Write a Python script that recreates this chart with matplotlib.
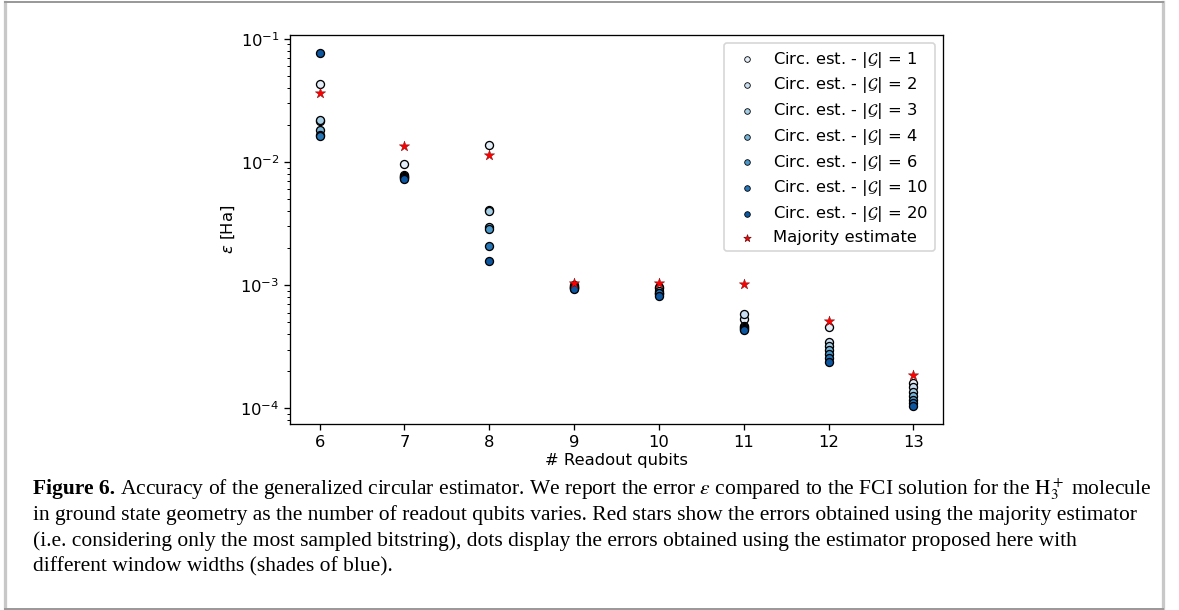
import numpy
from matplotlib import pyplot
from matplotlib import cm
from matplotlib.lines import Line2D

DPI = 118
W, H = 1179, 610
MARKERSIZE = 24
CAPTION_SIZE = 13.1

# Number of readout qubits
qubits = [6, 7, 8, 9, 10, 11, 12, 13]

# Window widths |G| of the circular estimator
widths = [1, 2, 3, 4, 6, 10, 20]

# Error of the circular estimator, one row per window width
circ_err = {
    1: [4.27e-02, 9.6e-03, 1.365e-02, 1.01e-03, 9.6e-04, 5.35e-04, 4.62e-04, 1.60e-04],
    2: [2.15e-02, 7.8e-03, 4.10e-03, 9.9e-04, 9.4e-04, 5.82e-04, 3.45e-04, 1.48e-04],
    3: [2.17e-02, 7.7e-03, 4.00e-03, 9.7e-04, 9.0e-04, 4.70e-04, 3.18e-04, 1.36e-04],
    4: [1.81e-02, 7.6e-03, 2.95e-03, 9.6e-04, 8.7e-04, 4.60e-04, 2.97e-04, 1.27e-04],
    6: [1.65e-02, 7.5e-03, 2.88e-03, 9.5e-04, 8.5e-04, 4.50e-04, 2.76e-04, 1.17e-04],
    10: [1.63e-02, 7.4e-03, 2.08e-03, 9.4e-04, 8.6e-04, 4.40e-04, 2.56e-04, 1.10e-04],
    20: [7.70e-02, 7.3e-03, 1.56e-03, 9.3e-04, 8.2e-04, 4.32e-04, 2.39e-04, 1.04e-04],
}

# Error of the majority estimator
majority_err = [3.63e-02, 1.35e-02, 1.14e-02, 1.04e-03, 1.05e-03, 1.02e-03, 5.1e-04, 1.85e-04]

caption_head = "Figure 6."
caption_lines = [
    r" Accuracy of the generalized circular estimator. We report the error $\epsilon$ compared to the FCI solution for the $\mathrm{H}_3^+$ molecule",
    "in ground state geometry as the number of readout qubits varies. Red stars show the errors obtained using the majority estimator",
    "(i.e. considering only the most sampled bitstring), dots display the errors obtained using the estimator proposed here with",
    "different window widths (shades of blue).",
]

fig = pyplot.figure(figsize=(W / DPI, H / DPI), dpi=DPI)
ax = fig.add_axes([290 / W, 1 - 424 / H, 653 / W, 389 / H])

colors = cm.Blues(numpy.linspace(0.1, 0.85, len(widths)))
for w, c in zip(widths, colors):
    ax.scatter(qubits, circ_err[w], s=MARKERSIZE, color=c, edgecolors="k",
               linewidths=0.8, label=r"Circ. est. - $|\mathcal{G}|$ = " + str(w))
ax.scatter(qubits, majority_err, s=MARKERSIZE * 1.8, marker="*", color="red",
           edgecolors="#7a1010", linewidths=0.3, label="Majority estimate")

ax.set_yscale("log")
ax.set_xticks(qubits)
ax.set_xlabel("# Readout qubits", labelpad=2)
ax.set_ylabel(r"$\epsilon$ [Ha]", labelpad=2)
ax.tick_params(pad=3)
leg = ax.legend(loc="upper right", markerscale=0.7, labelspacing=0.35,
                handletextpad=0.6)
for handle in leg.legend_handles:
    handle.set_linewidth(0.5)

# caption below the plot
renderer = fig.canvas.get_renderer()
x0 = 33 / W
head = fig.text(x0, 1 - 489 / H, caption_head, fontsize=CAPTION_SIZE,
                fontweight="bold", family="Liberation Serif", va="center")
bb = head.get_window_extent(renderer)
fig.text(bb.x1 / fig.bbox.width, 1 - 489 / H, caption_lines[0],
         fontsize=CAPTION_SIZE, family="Liberation Serif", va="center",
         math_fontfamily="stix")
for i, line in enumerate(caption_lines[1:]):
    fig.text(x0, 1 - (515 + 26 * i) / H, line, fontsize=CAPTION_SIZE,
             family="Liberation Serif", va="center", math_fontfamily="stix")

# page frame around figure and caption
frame = [((5, 5), (2, 609), "#c8c8c8", 2.0),
         ((1163, 1163), (2, 609), "#c8c8c8", 2.0),
         ((5, 1163), (2, 2), "#999999", 1.2),
         ((5, 1163), (608.5, 608.5), "#999999", 1.2)]
for xs, ys, col, lw in frame:
    fig.add_artist(Line2D([x / W for x in xs], [1 - y / H for y in ys],
                          color=col, linewidth=lw, transform=fig.transFigure))

fig.savefig("out.png", dpi=DPI)
